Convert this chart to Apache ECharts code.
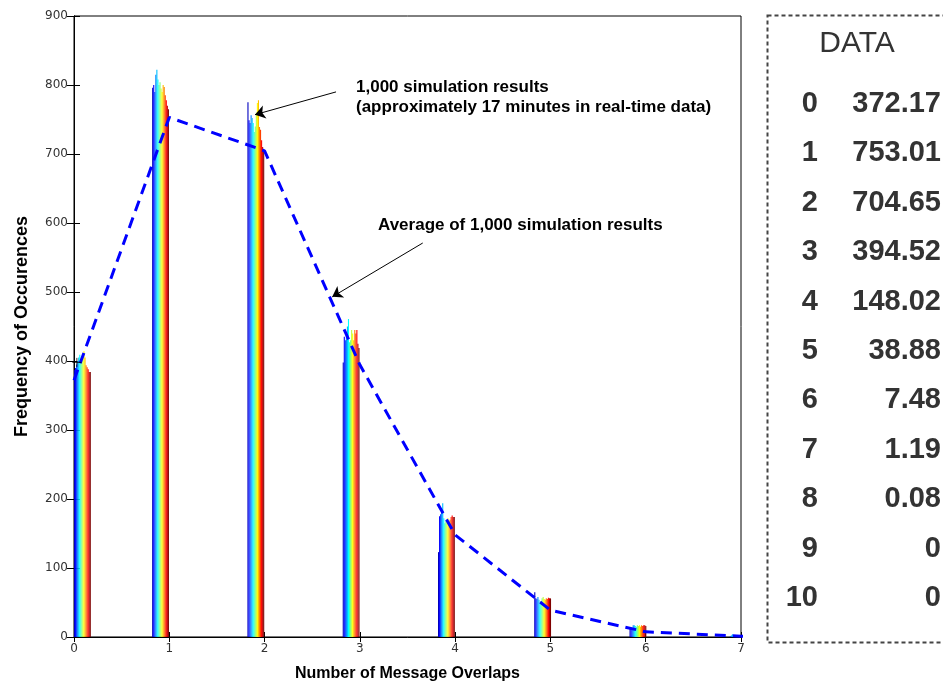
<!DOCTYPE html>
<html>
<head>
<meta charset="utf-8">
<script src="https://cdn.jsdelivr.net/npm/echarts@6/dist/echarts.min.js"></script>
<style>
html, body { margin: 0; padding: 0; background: #fff; }
#chart { width: 943px; height: 685px; }
</style>
</head>
<body>
<div id="chart"></div>
<script>
// average of the 1,000 runs (dashed line + table on the right)
var overlaps = [0, 1, 2, 3, 4, 5, 6, 7, 8, 9, 10];
var avgFrequency = [372.17, 753.01, 704.65, 394.52, 148.02, 38.88, 7.48, 1.19, 0.08, 0, 0];
var avgLabels = ['372.17', '753.01', '704.65', '394.52', '148.02', '38.88', '7.48', '1.19', '0.08', '0', '0'];

// individual simulation runs, one thin bar per colour group
var clusterStart = [0.00, 0.82, 1.82, 2.82, 3.82, 4.83, 5.83, 6.86];
var runOffsets = [0.000, 0.011, 0.022, 0.033, 0.044, 0.055, 0.066, 0.077,
                  0.088, 0.099, 0.110, 0.121, 0.132, 0.143, 0.154, 0.165];
var runHeights = [
    [387, 390, 395, 400, 405, 409, 402, 400, 410, 414, 405, 394, 391, 388, 384, 384],
    [796, 800, 790, 815, 822, 808, 800, 804, 795, 790, 800, 797, 785, 778, 770, 765],
    [775, 749, 745, 756, 752, 745, 732, 740, 760, 774, 778, 739, 735, 720, 710, 705],
    [398, 435, 430, 440, 450, 461, 427, 430, 445, 440, 430, 445, 440, 445, 425, 419],
    [123, 175, 178, 180, 194, 172, 165, 168, 170, 172, 168, 170, 174, 176, 174, 174],
    [65, 56, 55, 58, 54, 49, 52, 56, 58, 55, 54, 56, 55, 57, 56, 56],
    [14, 12, 11, 17, 17, 16, 15, 17, 16, 17, 15, 17, 16, 17, 17, 16],
    [0, 0, 1, 2, 4, 3, 1, 0, 0, 1, 2, 1, 2, 4, 8, 10]
];
var jetColors = ['#0000BF', '#0000FF', '#0040FF', '#0080FF', '#00BFFF', '#00FFFF', '#40FFBF', '#80FF80',
                 '#BFFF40', '#FFFF00', '#FFBF00', '#FF8000', '#FF4000', '#FF0000', '#BF0000', '#800000'];

// little "+" marker left on the plot near the first average point
var crossMarker = [[0.03, 398]];

// annotation arrows [from, to] in data units
var arrowRuns = [[2.75, 790], [1.90, 757]];
var arrowAverage = [[3.66, 571], [2.71, 493]];

var chart = echarts.init(document.getElementById('chart'), null, { renderer: 'canvas' });

var barData = [];
clusterStart.forEach(function (start, c) {
    runOffsets.forEach(function (off, i) {
        barData.push([start + off, runHeights[c][i], i]);
    });
});

var lineData = overlaps.map(function (k, i) { return [k, avgFrequency[i]]; });

function renderRun(params, api) {
    var x = api.value(0);
    var top = api.coord([x, api.value(1)]);
    var base = api.coord([x, 0]);
    var w = api.size([0.0115, 0])[0];
    return {
        type: 'rect',
        shape: { x: base[0], y: top[1], width: w, height: base[1] - top[1] },
        style: { fill: jetColors[api.value(2)] }
    };
}

var fontFamily = 'Liberation Sans, Arial, sans-serif';

// table on the right side
var tableGraphics = [{
    type: 'rect',
    left: 765, top: 13,
    shape: { width: 200, height: 627 },
    style: { fill: 'none', stroke: '#444', lineWidth: 2, lineDash: [4, 3] }
}, {
    type: 'text',
    x: 857, y: 44,
    style: { text: 'DATA', font: '30px ' + fontFamily, fill: '#333', align: 'center', verticalAlign: 'middle' }
}];
overlaps.forEach(function (k, i) {
    var y = 104 + i * 49.4;
    tableGraphics.push({
        type: 'text', x: 818, y: y,
        style: { text: String(k), font: 'bold 29px ' + fontFamily, fill: '#333', align: 'right', verticalAlign: 'middle' }
    });
    tableGraphics.push({
        type: 'text', x: 941, y: y,
        style: { text: avgLabels[i], font: 'bold 29px ' + fontFamily, fill: '#333', align: 'right', verticalAlign: 'middle' }
    });
});

var noteStyle = { font: 'bold 17px ' + fontFamily, fill: '#000' };
var notes = [
    { type: 'text', x: 356, y: 79, style: Object.assign({ text: '1,000 simulation results' }, noteStyle) },
    { type: 'text', x: 356, y: 99, style: Object.assign({ text: '(approximately 17 minutes in real-time data)' }, noteStyle) },
    { type: 'text', x: 378, y: 217, style: Object.assign({ text: 'Average of 1,000 simulation results' }, noteStyle) }
];

var tickFont = 'DejaVu Sans';

var option = {
    backgroundColor: '#fff',
    animation: false,
    textStyle: { fontFamily: fontFamily },
    grid: {
        left: 74, right: 202, top: 16, bottom: 48, containLabel: false,
        outerBoundsMode: 'none',
        show: true, borderColor: '#000', borderWidth: 1, backgroundColor: 'transparent'
    },
    xAxis: [{
        type: 'value',
        min: 0, max: 7, interval: 1,
        name: 'Number of Message Overlaps',
        nameLocation: 'middle',
        nameGap: 29,
        nameTextStyle: { color: '#000', fontSize: 16, fontWeight: 'bold' },
        axisLine: { lineStyle: { color: '#777', width: 2 } },
        axisTick: { inside: true, length: 5, lineStyle: { color: '#000' } },
        axisLabel: { color: '#333', fontSize: 12, fontFamily: tickFont, margin: 6 },
        splitLine: { show: false }
    }, {
        type: 'value', position: 'top',
        min: 0, max: 7, interval: 1,
        axisLine: { show: true, lineStyle: { color: '#000' } },
        axisTick: { show: true, inside: true, length: 5, lineStyle: { color: '#000' } },
        axisLabel: { show: false },
        splitLine: { show: false }
    }],
    yAxis: [{
        type: 'value',
        min: 0, max: 900, interval: 100,
        name: 'Frequency of Occurences',
        nameLocation: 'middle',
        nameGap: 43,
        nameTextStyle: { color: '#000', fontSize: 18, fontWeight: 'bold' },
        axisLine: { show: true, lineStyle: { color: '#000' } },
        axisTick: { show: true, inside: true, length: 6, lineStyle: { color: '#000' } },
        axisLabel: { color: '#333', fontSize: 12, fontFamily: tickFont, margin: 6 },
        splitLine: { show: false }
    }, {
        type: 'value', position: 'right',
        min: 0, max: 900, interval: 100,
        axisLine: { show: true, lineStyle: { color: '#000' } },
        axisTick: { show: true, inside: true, length: 7, lineStyle: { color: '#000' } },
        axisLabel: { show: false },
        splitLine: { show: false }
    }],
    series: [{
        name: 'runs',
        type: 'custom',
        clip: true,
        renderItem: renderRun,
        encode: { x: 0, y: 1 },
        data: barData,
        z: 2
    }, {
        name: 'average',
        type: 'line',
        data: lineData,
        symbol: 'none',
        clip: true,
        lineStyle: { color: '#0000FF', width: 3, type: [11, 7] },
        z: 3,
        markLine: {
            silent: true,
            symbol: ['none', 'arrow'],
            symbolSize: 10,
            label: { show: false },
            lineStyle: { color: '#000', width: 1, type: 'solid' },
            data: [
                [{ coord: arrowRuns[0] }, { coord: arrowRuns[1] }],
                [{ coord: arrowAverage[0] }, { coord: arrowAverage[1] }]
            ]
        }
    }, {
        name: 'cross',
        type: 'scatter',
        data: crossMarker,
        symbol: 'path://M5,0L5,10M0,5L10,5',
        symbolSize: 9,
        itemStyle: { color: 'none', borderColor: '#000', borderWidth: 1 },
        z: 4
    }, {
        // dummy series so the top / right frame axes have something bound
        name: 'frame',
        type: 'line',
        xAxisIndex: 1,
        yAxisIndex: 1,
        data: [],
        symbol: 'none'
    }],
    graphic: tableGraphics.concat(notes)
};

chart.setOption(option);
</script>
</body>
</html>
